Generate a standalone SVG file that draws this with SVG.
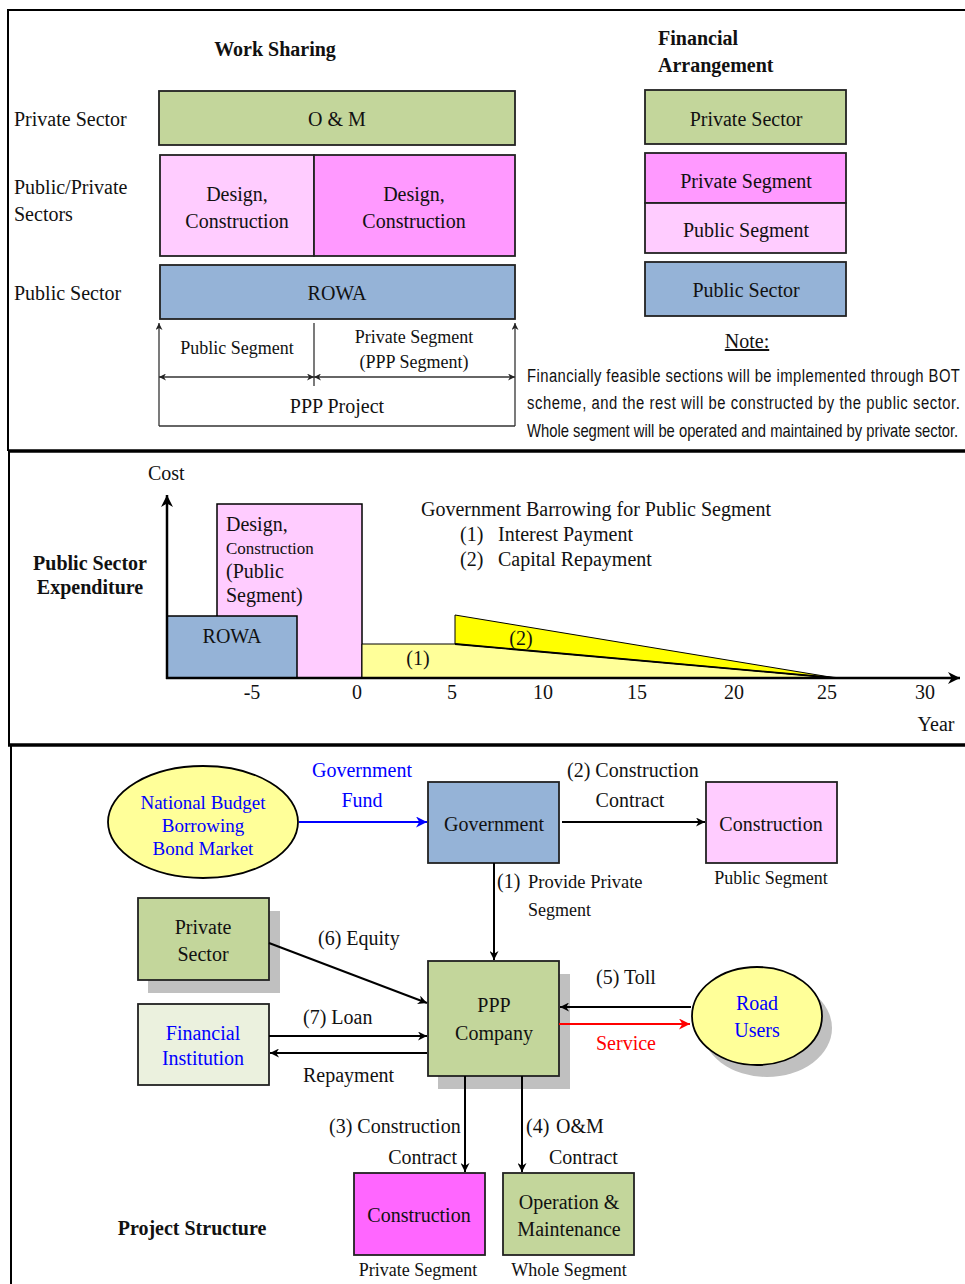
<svg xmlns="http://www.w3.org/2000/svg" width="965" height="1284" viewBox="0 0 965 1284">
<defs>
<marker id="ah" viewBox="0 0 10 10" refX="10" refY="5" markerWidth="9" markerHeight="9" markerUnits="userSpaceOnUse" orient="auto-start-reverse"><path d="M0,0 L10,5 L0,10 L3,5 Z" fill="#000"/></marker>
<marker id="ahs" viewBox="0 0 10 10" refX="10" refY="5" markerWidth="7" markerHeight="7" markerUnits="userSpaceOnUse" orient="auto-start-reverse"><path d="M0,0 L10,5 L0,10 L3,5 Z" fill="#222"/></marker>
<marker id="ahb" viewBox="0 0 10 10" refX="10" refY="5" markerWidth="11" markerHeight="11" markerUnits="userSpaceOnUse" orient="auto"><path d="M0,0 L10,5 L0,10 L3,5 Z" fill="#0000ff"/></marker>
<marker id="ahr" viewBox="0 0 10 10" refX="10" refY="5" markerWidth="11" markerHeight="11" markerUnits="userSpaceOnUse" orient="auto"><path d="M0,0 L10,5 L0,10 L3,5 Z" fill="#ff0000"/></marker>
<marker id="ahl" viewBox="0 0 10 10" refX="10" refY="5" markerWidth="12" markerHeight="12" markerUnits="userSpaceOnUse" orient="auto"><path d="M0,0 L10,5 L0,10 L3,5 Z" fill="#000"/></marker>
</defs>
<style>
text{font-family:"Liberation Serif","Times New Roman",serif;font-size:20px;fill:#111}
.c{text-anchor:middle}
.b{font-weight:bold}
.blue{fill:#0000ff}
.red{fill:#ff0000}
.box{stroke:#222;stroke-width:1.8}
.green{fill:#c3d69b}
.pink{fill:#ffccff}
.mag{fill:#ff99ff}
.bluef{fill:#95b3d7}
.shadow{fill:#c0c0c0}
.note{font-family:"Liberation Sans",Arial,sans-serif;font-size:19px}
</style>
<rect width="965" height="1284" fill="#fff"/>
<g id="frame" fill="none" stroke="#000">
<line x1="8" y1="10" x2="965" y2="10" stroke-width="2"/>
<line x1="8" y1="9" x2="8" y2="451" stroke-width="2"/>
<line x1="8" y1="451" x2="965" y2="451" stroke-width="3.5"/>
<line x1="9" y1="451" x2="9" y2="746" stroke-width="2"/>
<line x1="8" y1="745" x2="965" y2="745" stroke-width="3.5"/>
<line x1="11" y1="746" x2="11" y2="1284" stroke-width="2"/>
</g>

<g id="work-sharing">
<text class="c b" x="275" y="56">Work Sharing</text>
<text x="14" y="126">Private Sector</text>
<text x="14" y="194">Public/Private</text>
<text x="14" y="221">Sectors</text>
<text x="14" y="300">Public Sector</text>
</g>
<g id="ws-om"><rect class="box green" x="159" y="91" width="356" height="54"/><text class="c" x="337" y="126">O &amp; M</text></g>
<g id="ws-dc-public"><rect class="box pink" x="160" y="155" width="154" height="101"/><text class="c" x="237" y="201">Design,</text><text class="c" x="237" y="228">Construction</text></g>
<g id="ws-dc-private"><rect class="box mag" x="314" y="155" width="201" height="101"/><text class="c" x="414" y="201">Design,</text><text class="c" x="414" y="228">Construction</text></g>
<g id="ws-rowa"><rect class="box bluef" x="160" y="265" width="355" height="54"/><text class="c" x="337" y="300">ROWA</text></g>
<g id="ws-dims" stroke="#333" stroke-width="1.3" fill="none">
<line x1="159" y1="426" x2="159" y2="323" marker-end="url(#ahs)"/>
<line x1="515" y1="426" x2="515" y2="323" marker-end="url(#ahs)"/>
<line x1="159" y1="426" x2="515" y2="426"/>
<line x1="314" y1="323" x2="314" y2="386"/>
<line x1="159" y1="377" x2="314" y2="377" marker-start="url(#ahs)" marker-end="url(#ahs)"/>
<line x1="314" y1="377" x2="515" y2="377" marker-start="url(#ahs)" marker-end="url(#ahs)"/>
</g>
<g id="ws-labels">
<text class="c" x="237" y="354" style="font-size:18px">Public Segment</text>
<text class="c" x="414" y="343" style="font-size:18px">Private Segment</text>
<text class="c" x="414" y="368" style="font-size:18px">(PPP Segment)</text>
<text class="c" x="337" y="413">PPP Project</text>
</g>

<g id="fin-title"><text class="b" x="658" y="45">Financial</text><text class="b" x="658" y="72">Arrangement</text></g>
<g id="fa-private-sector"><rect class="box green" x="645" y="90" width="201" height="54"/><text class="c" x="746" y="126">Private Sector</text></g>
<g id="fa-segments"><rect class="box mag" x="645" y="153" width="201" height="50"/><text class="c" x="746" y="188">Private Segment</text><rect class="box pink" x="645" y="203" width="201" height="50"/><text class="c" x="746" y="237">Public Segment</text></g>
<g id="fa-public-sector"><rect class="box bluef" x="645" y="262" width="201" height="54"/><text class="c" x="746" y="297">Public Sector</text></g>
<g id="note">
<text class="c" x="747" y="348" text-decoration="underline">Note:</text>
<g transform="translate(527,382) scale(0.78,1)"><text class="note" x="0" y="0" textLength="555" lengthAdjust="spacing">Financially feasible sections will be implemented through BOT</text></g>
<g transform="translate(527,409) scale(0.78,1)"><text class="note" x="0" y="0" textLength="555" lengthAdjust="spacing">scheme, and the rest will be constructed by the public sector.</text></g>
<g transform="translate(527,437) scale(0.777,1)"><text class="note" x="0" y="0" textLength="555" lengthAdjust="spacingAndGlyphs">Whole segment will be operated and maintained by private sector.</text></g>
</g>

<g id="chart-labels">
<text x="148" y="480">Cost</text>
<text class="c b" x="90" y="570">Public Sector</text>
<text class="c b" x="90" y="594">Expenditure</text>
<text x="421" y="516">Government Barrowing for Public Segment</text>
<text x="460" y="541">(1)</text><text x="498" y="541">Interest Payment</text>
<text x="460" y="566">(2)</text><text x="498" y="566">Capital Repayment</text>
<text x="936" y="731" class="c">Year</text>
</g>
<g id="chart-ticks">
<text class="c" x="252" y="699">-5</text>
<text class="c" x="357" y="699">0</text>
<text class="c" x="452" y="699">5</text>
<text class="c" x="543" y="699">10</text>
<text class="c" x="637" y="699">15</text>
<text class="c" x="734" y="699">20</text>
<text class="c" x="827" y="699">25</text>
<text class="c" x="925" y="699">30</text>
</g>
<g id="bar-design"><rect x="217" y="504" width="145" height="174" fill="#ffccff" stroke="#000" stroke-width="1.5"/>
<text x="226" y="531">Design,</text><text x="226" y="554" style="font-size:17px">Construction</text><text x="226" y="578">(Public</text><text x="226" y="602">Segment)</text></g>
<g id="bar-rowa"><rect x="167" y="616" width="130" height="62" fill="#95b3d7" stroke="#000" stroke-width="1.5"/><text class="c" x="232" y="643">ROWA</text></g>
<g id="area-interest"><polygon points="362,644 455,644 836,678 362,678" fill="#ffff99" stroke="#000" stroke-width="1"/><text class="c" x="418" y="665">(1)</text></g>
<g id="area-capital"><polygon points="455,615 836,678 455,644" fill="#ffff00" stroke="#000" stroke-width="1"/><line x1="455" y1="644" x2="836" y2="678" stroke="#000" stroke-width="1.8"/><text class="c" x="521" y="645">(2)</text></g>
<g id="axes" fill="none" stroke="#000" stroke-width="2.5">
<line x1="167" y1="679" x2="167" y2="495" marker-end="url(#ahl)"/>
<line x1="166" y1="678" x2="960" y2="678" marker-end="url(#ahl)"/>
</g>

<g id="node-budget"><ellipse cx="203" cy="822" rx="95" ry="56" fill="#ffff99" stroke="#000" stroke-width="1.8"/>
<text class="c blue" x="203" y="809" style="font-size:19px">National Budget</text><text class="c blue" x="203" y="832" style="font-size:19px">Borrowing</text><text class="c blue" x="203" y="855" style="font-size:19px">Bond Market</text></g>
<g id="node-government"><rect class="box bluef" x="428" y="782" width="131" height="81"/><text class="c" x="494" y="831">Government</text></g>
<g id="node-construction-public"><rect class="box pink" x="706" y="782" width="131" height="81"/><text class="c" x="771" y="831">Construction</text><text class="c" x="771" y="884" style="font-size:18px">Public Segment</text></g>
<g id="node-private-sector"><rect class="shadow" x="148" y="911" width="132" height="82"/><rect class="box green" x="138" y="898" width="131" height="82"/><text class="c" x="203" y="934">Private</text><text class="c" x="203" y="961">Sector</text></g>
<g id="node-ppp"><rect class="shadow" x="438" y="974" width="132" height="115"/><rect class="box green" x="428" y="961" width="131" height="115"/><text class="c" x="494" y="1012">PPP</text><text class="c" x="494" y="1040">Company</text></g>
<g id="node-financial"><rect class="box" fill="#ebf1de" x="138" y="1004" width="131" height="81"/><text class="c blue" x="203" y="1040">Financial</text><text class="c blue" x="203" y="1065">Institution</text></g>
<g id="node-road-users"><ellipse cx="767" cy="1028" rx="65" ry="49" fill="#c0c0c0"/><ellipse cx="757" cy="1016" rx="65" ry="49" fill="#ffff99" stroke="#000" stroke-width="1.8"/><text class="c blue" x="757" y="1010">Road</text><text class="c blue" x="757" y="1037">Users</text></g>
<g id="node-construction-private"><rect class="box" fill="#ff66ff" x="354" y="1173" width="131" height="82"/><text class="c" x="419" y="1222">Construction</text><text class="c" x="418" y="1276" style="font-size:18px">Private Segment</text></g>
<g id="node-om"><rect class="box green" x="503" y="1173" width="131" height="82"/><text class="c" x="569" y="1209">Operation &amp;</text><text class="c" x="569" y="1236">Maintenance</text><text class="c" x="569" y="1276" style="font-size:18px">Whole Segment</text></g>
<g id="title-project"><text class="c b" x="192" y="1235">Project Structure</text></g>

<g id="connectors" fill="none" stroke-width="2">
<line x1="299" y1="822" x2="427" y2="822" stroke="#0000ff" marker-end="url(#ahb)"/>
<line x1="562" y1="822" x2="705" y2="822" stroke="#000" marker-end="url(#ah)"/>
<line x1="494" y1="863" x2="494" y2="960" stroke="#000" marker-end="url(#ah)"/>
<line x1="269" y1="943" x2="427" y2="1003" stroke="#000" marker-end="url(#ah)"/>
<line x1="269" y1="1036" x2="427" y2="1036" stroke="#000" marker-end="url(#ah)"/>
<line x1="427" y1="1053" x2="270" y2="1053" stroke="#000" marker-end="url(#ah)"/>
<line x1="691" y1="1007" x2="560" y2="1007" stroke="#000" marker-end="url(#ah)"/>
<line x1="559" y1="1024" x2="690" y2="1024" stroke="#ff0000" marker-end="url(#ahr)"/>
<line x1="465" y1="1076" x2="465" y2="1172" stroke="#000" marker-end="url(#ah)"/>
<line x1="522" y1="1076" x2="522" y2="1172" stroke="#000" marker-end="url(#ah)"/>
</g>
<g id="connector-labels">
<text class="c blue" x="362" y="777">Government</text>
<text class="c blue" x="362" y="807">Fund</text>
<text x="567" y="777">(2) Construction</text>
<text class="c" x="630" y="807">Contract</text>
<text x="497" y="888">(1)</text><text x="528" y="888" style="font-size:18.5px">Provide Private</text>
<text x="528" y="916" style="font-size:18px">Segment</text>
<text x="318" y="945">(6) Equity</text>
<text x="303" y="1024">(7) Loan</text>
<text x="303" y="1082">Repayment</text>
<text x="596" y="984">(5) Toll</text>
<text class="c red" x="626" y="1050">Service</text>
<text x="329" y="1133">(3) Construction</text>
<text x="457" y="1164" text-anchor="end">Contract</text>
<text x="526" y="1133">(4)</text><text x="556" y="1133">O&amp;M</text>
<text x="549" y="1164">Contract</text>
</g>
</svg>
